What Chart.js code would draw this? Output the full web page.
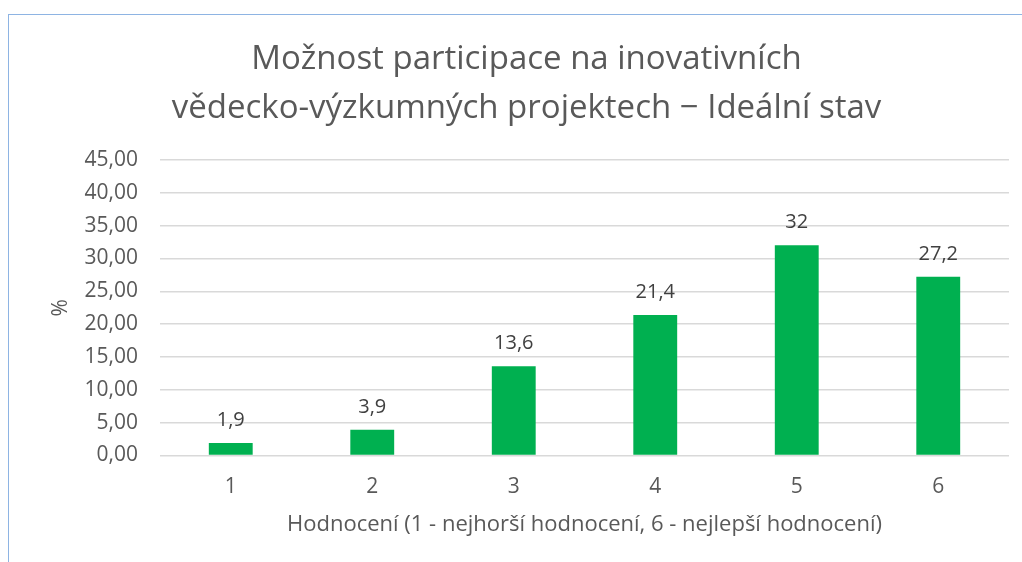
<!DOCTYPE html>
<html>
<head>
<meta charset="utf-8">
<script src="https://cdn.jsdelivr.net/npm/chart.js@4"></script>
<style>
    body { margin: 0; overflow: hidden; background: #fff; }
    .frame {
        position: absolute;
        left: 8px;
        top: 14px;
        width: 1100px;
        height: 600px;
        border: 1px solid #8EB4E3;
    }
    .wrap {
        position: absolute;
        left: 8px;
        top: 14px;
        width: 1032px;
        height: 560px;
    }
</style>
</head>
<body>
<div class="frame"></div>
<div class="wrap"><canvas id="chart"></canvas></div>
<script>
// chart data
const categories = ['1', '2', '3', '4', '5', '6'];
const values = [1.9, 3.9, 13.6, 21.4, 32, 27.2];
const titleLines = ['Možnost participace na inovativních', 'vědecko-výzkumných projektech − Ideální stav'];

const grey = '#595959';
const fontFamily = '"Open Sans", sans-serif';

function czNum(v) {
    return String(v).replace('.', ',');
}

// value labels above the bars
const barLabels = {
    id: 'barLabels',
    afterDatasetsDraw(chart) {
        const ctx = chart.ctx;
        const meta = chart.getDatasetMeta(0);
        ctx.save();
        ctx.font = '20px ' + fontFamily;
        ctx.fillStyle = '#404040';
        ctx.textAlign = 'center';
        ctx.textBaseline = 'bottom';
        meta.data.forEach(function (bar, i) {
            ctx.fillText(czNum(values[i]), bar.x, bar.y - 13);
        });
        ctx.restore();
    }
};

const config = {
    type: 'bar',
    data: {
        labels: categories,
        datasets: [{
            data: values,
            backgroundColor: '#00B050',
            barPercentage: 0.31,
            categoryPercentage: 1
        }]
    },
    options: {
        responsive: true,
        maintainAspectRatio: false,
        animation: false,
        layout: {
            padding: { left: 36, right: 31, top: 0, bottom: 32 }
        },
        plugins: {
            legend: { display: false },
            tooltip: { enabled: false },
            title: {
                display: true,
                text: titleLines,
                color: grey,
                font: { family: fontFamily, size: 33, weight: 'normal', lineHeight: 1.485 },
                padding: { top: 21, bottom: 27 }
            }
        },
        scales: {
            x: {
                grid: { display: false, drawTicks: false },
                border: { display: false },
                ticks: {
                    color: grey,
                    font: { family: fontFamily, size: 21 },
                    padding: 19
                },
                title: {
                    display: true,
                    text: 'Hodnocení (1 - nejhorší hodnocení, 6 - nejlepší hodnocení)',
                    color: grey,
                    font: { family: fontFamily, size: 22 },
                    // ticks padding is reserved twice, pull the title back up
                    padding: { top: -7 }
                }
            },
            y: {
                min: 0,
                max: 45,
                afterFit: function (scale) {
                    scale.width = 116;
                },
                grid: { color: '#D9D9D9', lineWidth: 1.5, drawTicks: false },
                border: { display: false },
                ticks: {
                    stepSize: 5,
                    color: grey,
                    font: { family: fontFamily, size: 21 },
                    padding: 22,
                    callback: function (v) {
                        return v.toFixed(2).replace('.', ',');
                    }
                },
                title: {
                    display: true,
                    text: '%',
                    color: grey,
                    font: { family: fontFamily, size: 21 },
                    padding: { bottom: 2 }
                }
            }
        }
    },
    plugins: [barLabels]
};

let chart = new Chart(document.getElementById('chart'), config);
</script>
</body>
</html>
